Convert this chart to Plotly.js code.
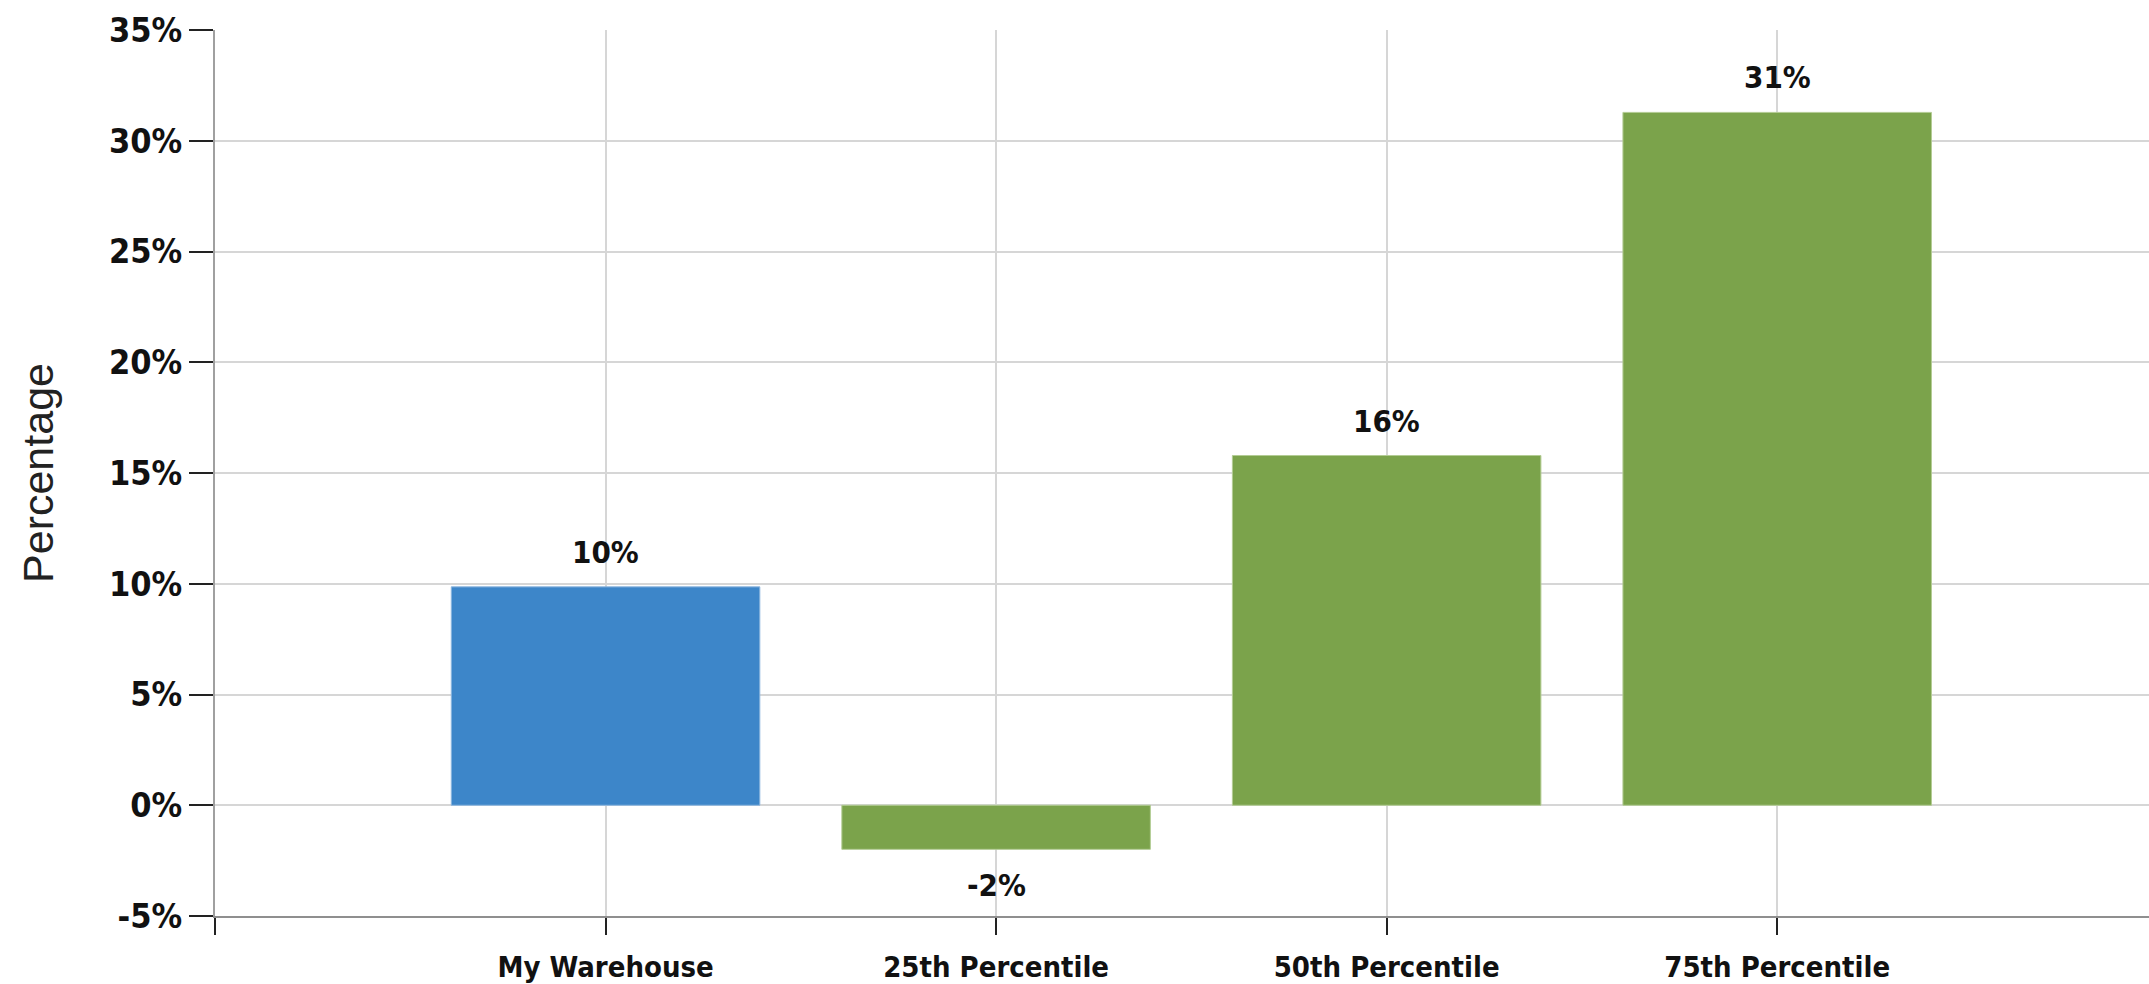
<!DOCTYPE html>
<html>
<head>
<meta charset="utf-8">
<script src="https://cdn.plot.ly/plotly-3.0.1.min.js"></script>
<style>
  html, body { margin: 0; padding: 0; background: #ffffff; }
  #chart { width: 2149px; height: 984px; }
</style>
</head>
<body>
<div id="chart"></div>
<script>
// Change in percentage: the warehouse against the peer percentiles
const categories = ['My Warehouse', '25th Percentile', '50th Percentile', '75th Percentile'];
const values = [9.86, -1.99, 15.79, 31.28];
const barColors = ['#3d86c9', '#7ba34b', '#7ba34b', '#7ba34b'];
const edgeColors = ['#8db6df', '#b3cc94', '#b3cc94', '#b3cc94'];
const yTickValues = [-5, 0, 5, 10, 15, 20, 25, 30, 35];

// bars sit on slots 1..n; slot 0 is the axis corner
const positions = categories.map((_, i) => i + 1);

const labelFont = { family: 'DejaVu Sans Condensed, DejaVu Sans, sans-serif', color: '#111111' };

const trace = {
  type: 'bar',
  x: positions,
  y: values,
  width: 0.79,
  marker: { color: barColors, line: { color: edgeColors, width: 1 } },
  hoverinfo: 'skip'
};

const valueLabels = values.map((v, i) => ({
  x: positions[i],
  y: v,
  xref: 'x',
  yref: 'y',
  text: Math.round(v) + '%',
  showarrow: false,
  yanchor: v >= 0 ? 'bottom' : 'top',
  yshift: v >= 0 ? 15 : -16,
  font: Object.assign({ size: 31, weight: 'bold' }, labelFont)
}));

const layout = {
  width: 2149,
  height: 984,
  margin: { l: 215, r: 0, t: 30, b: 68 },
  paper_bgcolor: '#ffffff',
  plot_bgcolor: '#ffffff',
  showlegend: false,
  xaxis: {
    range: [0, 4.952],
    tickvals: [0].concat(positions),
    ticktext: [''].concat(categories),
    showgrid: true,
    gridcolor: '#d6d6d6',
    gridwidth: 2,
    showline: true,
    linecolor: '#8f8f8f',
    linewidth: 2,
    ticks: 'outside',
    ticklen: 17,
    tickwidth: 2,
    tickcolor: '#222222',
    ticklabelstandoff: 7,
    zeroline: false,
    tickfont: Object.assign({ size: 29, weight: 'bold' }, labelFont),
    fixedrange: true
  },
  yaxis: {
    range: [-5, 35],
    tickvals: yTickValues,
    ticktext: yTickValues.map(v => v + '%'),
    showgrid: true,
    gridcolor: '#d6d6d6',
    gridwidth: 2,
    showline: true,
    linecolor: '#a0a0a0',
    linewidth: 2,
    ticks: 'outside',
    ticklen: 24,
    tickwidth: 2,
    tickcolor: '#222222',
    zeroline: false,
    tickfont: Object.assign({ size: 34, weight: 'bold' }, labelFont),
    title: {
      text: 'Percentage',
      standoff: 42,
      font: { family: 'Liberation Sans, Arial, sans-serif', size: 43, color: '#222222' }
    },
    automargin: false,
    fixedrange: true
  },
  annotations: valueLabels
};

Plotly.newPlot('chart', [trace], layout, { displayModeBar: false, staticPlot: true });
</script>
</body>
</html>
